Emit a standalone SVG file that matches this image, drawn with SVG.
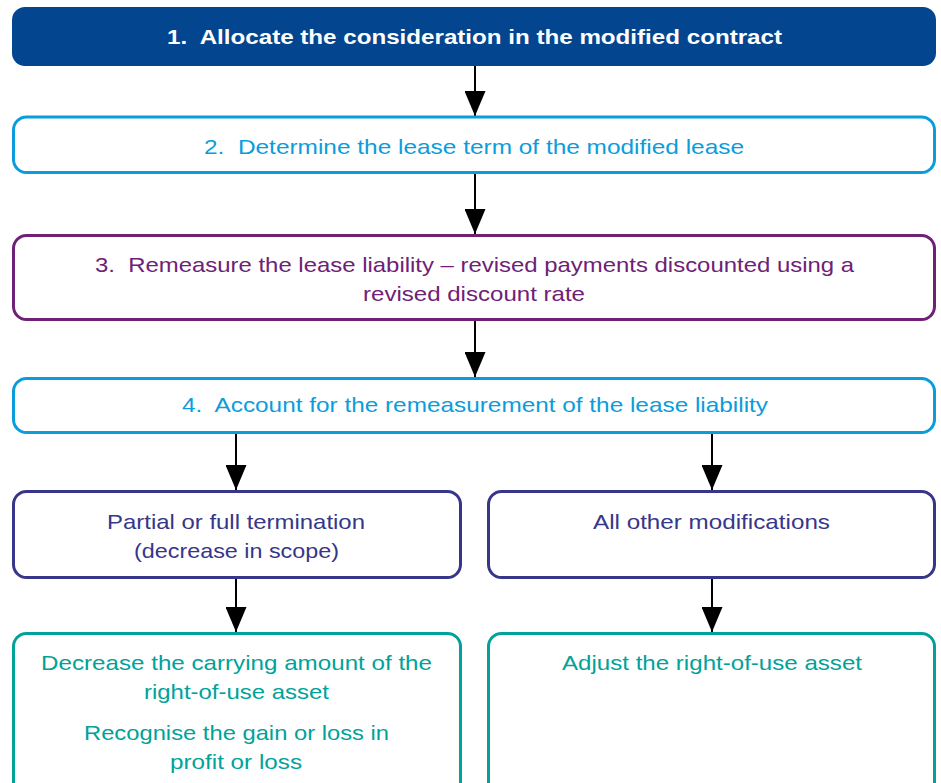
<svg xmlns="http://www.w3.org/2000/svg" width="941" height="783" viewBox="0 0 941 783">
<defs>
<marker id="arr" viewBox="0 0 25 21" markerWidth="25" markerHeight="21" refX="25" refY="10.5" orient="auto" markerUnits="userSpaceOnUse">
<path d="M0,0 L25,10.5 L0,21 Z" fill="#000"/>
</marker>
</defs>
<style>
text{font-family:"Liberation Sans",Arial,sans-serif;font-size:21px;text-anchor:middle;white-space:pre}
.box{fill:#fff;stroke-width:3}
.blue{stroke:#0A9DDB}
.tblue{fill:#0A9DDB}
.purple{stroke:#6E2177}
.tpurple{fill:#6E2177}
.indigo{stroke:#373689}
.tindigo{fill:#373689}
.teal{stroke:#00A29A}
.tteal{fill:#00A29A}
.conn{stroke:#000;stroke-width:2;fill:none;marker-end:url(#arr)}
</style>
<rect width="941" height="783" fill="#fff"/>
<g id="connectors">
<line class="conn" x1="475" y1="66" x2="475" y2="116"/>
<line class="conn" x1="475" y1="174" x2="475" y2="234"/>
<line class="conn" x1="475" y1="321" x2="475" y2="377"/>
<line class="conn" x1="236" y1="434" x2="236" y2="490"/>
<line class="conn" x1="712" y1="434" x2="712" y2="490"/>
<line class="conn" x1="236" y1="579" x2="236" y2="632"/>
<line class="conn" x1="712" y1="579" x2="712" y2="632"/>
</g>
<g id="n1">
<rect x="12" y="7" width="924" height="59" rx="13" fill="#03468F"/>
<text x="474.5" y="43.5" fill="#fff" font-weight="bold" textLength="615" lengthAdjust="spacingAndGlyphs">1.  Allocate the consideration in the modified contract</text>
</g>
<g id="n2">
<rect class="box blue" x="13.5" y="117" width="921" height="55.5" rx="13"/>
<text class="tblue" x="474" y="153.5" textLength="540" lengthAdjust="spacingAndGlyphs">2.  Determine the lease term of the modified lease</text>
</g>
<g id="n3">
<rect class="box purple" x="13.5" y="235.5" width="921" height="84" rx="13"/>
<text class="tpurple" x="474.5" y="271.5" textLength="759" lengthAdjust="spacingAndGlyphs">3.  Remeasure the lease liability – revised payments discounted using a</text>
<text class="tpurple" x="474" y="300.5" textLength="222" lengthAdjust="spacingAndGlyphs">revised discount rate</text>
</g>
<g id="n4">
<rect class="box blue" x="13.5" y="378.5" width="921" height="54" rx="13"/>
<text class="tblue" x="475" y="411.5" textLength="586" lengthAdjust="spacingAndGlyphs">4.  Account for the remeasurement of the lease liability</text>
</g>
<g id="n5">
<rect class="box indigo" x="13.5" y="491.5" width="447" height="86" rx="13"/>
<text class="tindigo" x="236" y="528.5" textLength="258" lengthAdjust="spacingAndGlyphs">Partial or full termination</text>
<text class="tindigo" x="236.5" y="557.5" textLength="205" lengthAdjust="spacingAndGlyphs">(decrease in scope)</text>
</g>
<g id="n6">
<rect class="box indigo" x="488.5" y="491.5" width="446" height="86" rx="13"/>
<text class="tindigo" x="711.5" y="528.5" textLength="237" lengthAdjust="spacingAndGlyphs">All other modifications</text>
</g>
<g id="n7">
<rect class="box teal" x="13.5" y="633.5" width="447" height="170" rx="13"/>
<text class="tteal" x="236.5" y="669.5" textLength="391" lengthAdjust="spacingAndGlyphs">Decrease the carrying amount of the</text>
<text class="tteal" x="236.5" y="698.5" textLength="185" lengthAdjust="spacingAndGlyphs">right-of-use asset</text>
<text class="tteal" x="236.5" y="739.5" textLength="305" lengthAdjust="spacingAndGlyphs">Recognise the gain or loss in</text>
<text class="tteal" x="236" y="768.5" textLength="132" lengthAdjust="spacingAndGlyphs">profit or loss</text>
</g>
<g id="n8">
<rect class="box teal" x="488.5" y="633.5" width="446" height="170" rx="13"/>
<text class="tteal" x="712" y="669.5" textLength="300" lengthAdjust="spacingAndGlyphs">Adjust the right-of-use asset</text>
</g>
</svg>
